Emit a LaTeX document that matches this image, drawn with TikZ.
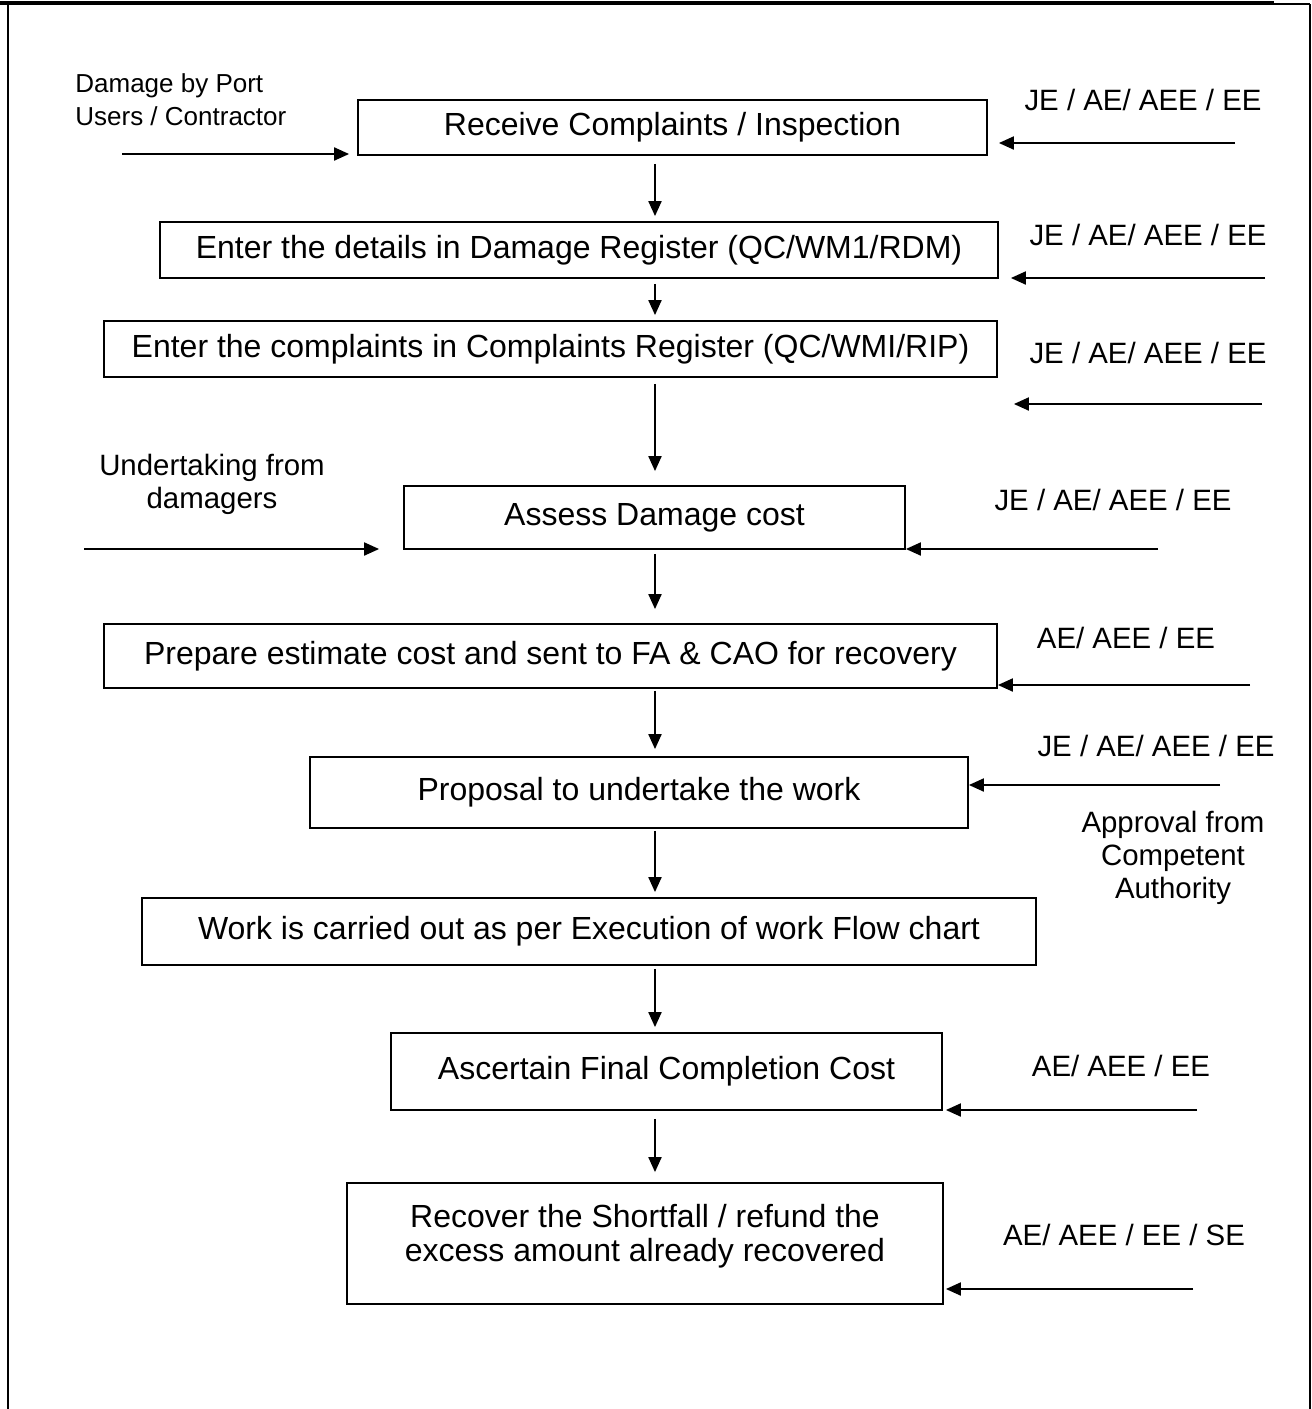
\documentclass[tikz,border=0pt]{standalone}
\usepackage{fontspec}
\setmainfont{Liberation Sans}
\usetikzlibrary{arrows.meta}
\begin{document}
\begin{tikzpicture}[x=0.5pt,y=-0.5pt,
  every node/.style={font=\fontsize{14.7}{16.5}\selectfont},
  boxfont/.style={font=\fontsize{16}{17}\selectfont},
  box/.style={draw, line width=0.9pt, inner sep=0pt, align=center, boxfont},
  lbl/.style={inner sep=0pt, align=center},
  arr/.style={line width=1pt, -{Triangle[length=7.5pt,width=6.5pt]}},
  frameline/.style={line width=1.25pt}]
\useasboundingbox (0,0) rectangle (1312,1409);

% page frame
\draw[line width=2pt] (0,3) -- (1274,3);
\draw[frameline] (1274,4) -- (1310,4);
\draw[frameline] (8,3) -- (8,1409);
\draw[frameline] (1310,4) -- (1310,1409);

% process boxes
\node[box, minimum width=314.5pt, minimum height=27.5pt] (b1) at (672.5,127.5) {Receive Complaints / Inspection};
\node[box, minimum width=419pt, minimum height=28pt] (b2) at (579,250) {Enter the details in Damage Register (QC/WM1/RDM)};
\node[box, minimum width=446.5pt, minimum height=28pt] (b3) at (550.5,349) {Enter the complaints in Complaints Register (QC/WMI/RIP)};
\node[box, minimum width=250.5pt, minimum height=31.5pt] (b4) at (654.5,517.5) {Assess Damage cost};
\node[box, minimum width=446.5pt, minimum height=32pt] (b5) at (550.5,656) {Prepare estimate cost and sent to FA \& CAO for recovery};
\node[box, minimum width=329pt, minimum height=35.5pt] (b6) at (639,792.5) {Proposal to undertake the work};
\node[box, minimum width=447pt, minimum height=33.5pt] (b7) at (589,931.5) {Work is carried out as per Execution of work Flow chart};
\node[box, minimum width=275.5pt, minimum height=38.5pt] (b8) at (666.5,1071.5) {Ascertain Final Completion Cost};
\node[box, minimum width=298pt, minimum height=60.5pt] (b9) at (645,1243.5) {};
\node[lbl, boxfont] (b9t) at (645,1236) {Recover the Shortfall / refund the\\excess amount already recovered};

% main flow
\coordinate (spine) at (655,0);
\draw[arr, shorten <=4pt, shorten >=2.5pt] (b1.south -| spine) -- (b2.north -| spine);
\draw[arr, shorten <=2.5pt, shorten >=2.5pt] (b2.south -| spine) -- (b3.north -| spine);
\draw[arr, shorten <=3pt, shorten >=7pt] (b3.south -| spine) -- (b4.north -| spine);
\draw[arr, shorten <=2pt, shorten >=7pt] (b4.south -| spine) -- (b5.north -| spine);
\draw[arr, shorten <=1pt, shorten >=3.5pt] (b5.south -| spine) -- (b6.north -| spine);
\draw[arr, shorten <=1pt, shorten >=2.5pt] (b6.south -| spine) -- (b7.north -| spine);
\draw[arr, shorten <=1.5pt, shorten >=2.5pt] (b7.south -| spine) -- (b8.north -| spine);
\draw[arr, shorten <=4pt, shorten >=5pt] (b8.south -| spine) -- (b9.north -| spine);

% inputs from the left
\node[lbl, anchor=west, align=left, font=\fontsize{13}{16.5}\selectfont] (l1) at (75,100) {Damage by Port\\Users / Contractor};
\coordinate (in1) at (122,154);
\draw[arr, shorten >=4pt] (in1) -- (in1 -| b1.west);

\node[lbl] (l4) at (212,484) {Undertaking from\\damagers};
\coordinate (in4) at (84,549);
\draw[arr, shorten >=12pt] (in4) -- (in4 -| b4.west);

% responsibilities on the right
\node[lbl] (t1) at (1143,100) {JE / AE/ AEE / EE};
\coordinate (r1) at (1235,143);
\draw[arr, shorten >=5.5pt] (r1) -- (r1 -| b1.east);

\node[lbl] (t2) at (1148,235) {JE / AE/ AEE / EE};
\coordinate (r2) at (1265,278);
\draw[arr, shorten >=6pt] (r2) -- (r2 -| b2.east);

\node[lbl] (t3) at (1148,353) {JE / AE/ AEE / EE};
\coordinate (r3) at (1262,404);
\draw[arr, shorten >=8pt] (r3) -- (r3 -| b3.east);

\node[lbl] (t4) at (1113,500) {JE / AE/ AEE / EE};
\coordinate (r4) at (1158,549);
\draw[arr] (r4) -- (r4 -| b4.east);

\node[lbl] (t5) at (1126,638) {AE/ AEE / EE};
\coordinate (r5) at (1250,685);
\draw[arr] (r5) -- (r5 -| b5.east);

\node[lbl] (t6) at (1156,746) {JE / AE/ AEE / EE};
\coordinate (r6) at (1220,785);
\draw[arr] (r6) -- (r6 -| b6.east);
\node[lbl] (t6b) at (1173,858) {Approval from\\Competent\\Authority};

\node[lbl] (t8) at (1121,1066) {AE/ AEE / EE};
\coordinate (r8) at (1197,1110);
\draw[arr, shorten >=1.5pt] (r8) -- (r8 -| b8.east);

\node[lbl] (t9) at (1124,1235) {AE/ AEE / EE / SE};
\coordinate (r9) at (1193,1289);
\draw[arr, shorten >=1pt] (r9) -- (r9 -| b9.east);
\end{tikzpicture}
\end{document}
